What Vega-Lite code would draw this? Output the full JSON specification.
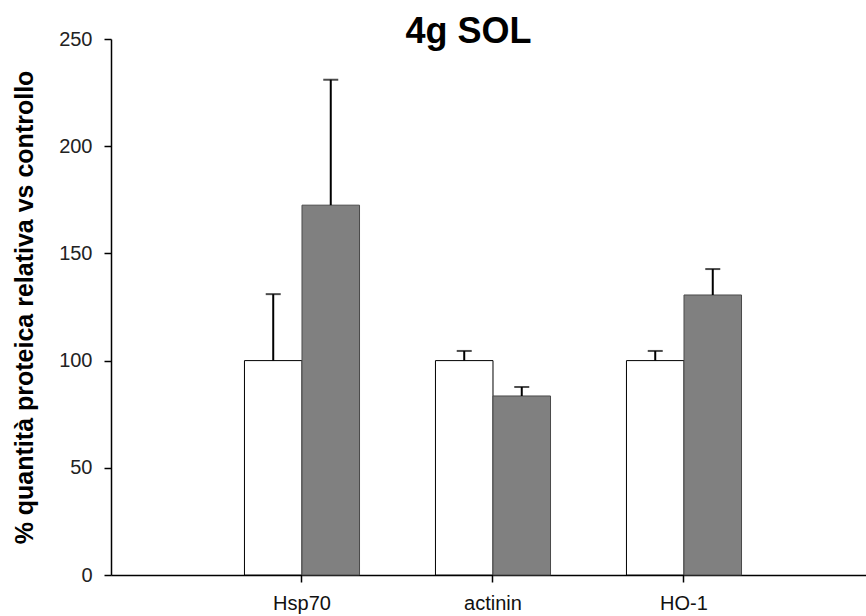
{
  "$schema": "https://vega.github.io/schema/vega-lite/v6.json",
  "width": 755,
  "height": 536,
  "autosize": {"type": "none"},
  "padding": {"left": 111, "top": 39, "right": 0, "bottom": 41},
  "title": {"text": "4g SOL", "fontSize": 36, "fontWeight": "bold", "font": "Liberation Sans", "color": "#000", "dx": -20, "dy": 37, "baseline": "bottom", "offset": -21},
  "data": {"values": [
    {"gene": "Hsp70", "group": "controllo", "value": 100, "upper": 131},
    {"gene": "Hsp70", "group": "4g", "value": 172.5, "upper": 231},
    {"gene": "actinin", "group": "controllo", "value": 100, "upper": 104.5},
    {"gene": "actinin", "group": "4g", "value": 83.5, "upper": 87.7},
    {"gene": "HO-1", "group": "controllo", "value": 100, "upper": 104.5},
    {"gene": "HO-1", "group": "4g", "value": 130.6, "upper": 142.7}
  ]},
  "encoding": {
    "x": {"field": "gene", "type": "nominal",
      "scale": {"type": "band", "domain": ["Hsp70", "actinin", "HO-1"], "paddingInner": 0, "paddingOuter": 0.4764, "align": 0.5247},
      "axis": {"title": null, "labelAngle": 0, "domainColor": "#000", "domainWidth": 1.5, "tickColor": "#000", "tickWidth": 1.5, "tickSize": 7, "labelPadding": 11, "labelFontSize": 20, "labelColor": "#111", "labelFont": "Liberation Sans"}},
    "xOffset": {"field": "group", "type": "nominal",
      "scale": {"domain": ["controllo", "4g"], "paddingInner": 0, "paddingOuter": 0.66}}
  },
  "layer": [
    {
      "mark": {"type": "bar", "strokeWidth": 1},
      "encoding": {
        "y": {"field": "value", "type": "quantitative",
          "scale": {"domain": [0, 250], "nice": false, "zero": true},
          "axis": {"title": "% quantità proteica relativa vs controllo", "titleFontSize": 25, "titleFontWeight": "bold", "titleFont": "Liberation Sans", "titleColor": "#000", "titlePadding": 21, "values": [0, 50, 100, 150, 200, 250], "grid": false, "domainColor": "#000", "domainWidth": 1.5, "tickColor": "#000", "tickWidth": 1.5, "tickSize": 7, "labelPadding": 12, "labelFontSize": 20, "labelColor": "#222", "labelFont": "Liberation Sans"}},
        "fill": {"field": "group", "type": "nominal", "scale": {"domain": ["controllo", "4g"], "range": ["#ffffff", "#808080"]}, "legend": null},
        "stroke": {"field": "group", "type": "nominal", "scale": {"domain": ["controllo", "4g"], "range": ["#000000", "#4a4a4a"]}, "legend": null}
      }
    },
    {
      "mark": {"type": "rule", "color": "#000", "strokeWidth": 2},
      "encoding": {
        "y": {"field": "value", "type": "quantitative"},
        "y2": {"field": "upper"}
      }
    },
    {
      "mark": {"type": "tick", "color": "#000", "thickness": 2, "size": 15},
      "encoding": {
        "y": {"field": "upper", "type": "quantitative"}
      }
    }
  ],
  "config": {"view": {"stroke": null}, "font": "Liberation Sans"}
}
